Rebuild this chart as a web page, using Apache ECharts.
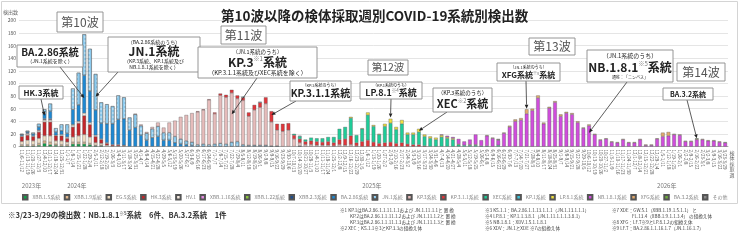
<!DOCTYPE html>
<html>
<head>
<meta charset="utf-8">
<script src="https://cdn.jsdelivr.net/npm/echarts@6/dist/echarts.min.js"></script>
<style>
html, body { margin: 0; padding: 0; background: #fff; }
#chart { width: 740px; height: 240px; }
</style>
</head>
<body>
<div id="chart"></div>
<script>
const N = 125
// first week starts Mon 2023-11-06, last week 2026-03-23 - 03-29
const firstWeek = Date.UTC(2023, 10, 6)
const yearTicks = [0, 8, 60, 112]
const yearNames = ['2023年', '2024年', '2025年', '2026年']

// span(startBar, values): values from bar number startBar (1-based), rest empty
function span(start, vals) {
  const out = new Array(N).fill(null)
  vals.forEach((v, i) => { out[start - 1 + i] = v || null })
  return out
}

const xbb15 = span(1, [1, 1, 1, 2, 5, 3, 2, 1, 1, 4, 4, 4, 3, 1, 1])
const xbb19 = span(1, [2, 2, 2, 3, 4, 4, 2, 2, 2, 3, 3, 3, 2, 1, 1])
const eg5 = span(1, [5, 7, 6, 8, 8, 10, 5, 6, 4, 8, 10, 12, 10, 4, 3, 2, 1, 1, 1])
const hk3 = span(1, [8, 8, 7, 10, 22, 22, 8, 8, 6, 16, 20, 30, 20, 10, 6, 3, 2, 2, 1])
const hv1 = span(1, [1, 2, 1, 2, 3, 3, 1, 2, 2, 3, 3, 4, 3, 2, 1, 1])
const xbb116 = span(1, [0, 1, 0, 1, 1, 1])
const xbb122 = span(10, [1])
const xbb23 = span(5, [1, 1])
const ba286 = span(1, [2, 2, 3, 5, 8, 12, 5, 6, 6, 24, 26, 60, 50, 40, 25, 30, 33, 40, 42, 26,
  30, 18, 10, 14, 16, 10, 10, 6, 4, 3, 2])
const jn1 = span(1, [1, 2, 2, 5, 7, 12, 6, 10, 14, 33, 51, 65, 67, 57, 33, 31, 28, 38, 34, 20,
  21, 15, 11, 14, 16, 12, 12, 10, 8, 6, 5, 3, 4, 3, 4, 5, 4, 7, 8, 3,
  2, 2, 2, 2, 1, 1, 0, 0, 0, 1])
const kp3 = span(21, [1, 2, 2, 3, 6, 8, 16, 25, 35, 41, 46, 52, 54, 71, 48, 76, 74, 78, 68, 70,
  46, 56, 60, 66, 38, 25, 24, 26, 12, 5, 3, 3, 2, 2, 2, 1, 3, 2, 3, 1])
const kp311 = span(32, [1, 1, 1, 2, 3, 4, 5, 5, 5, 6, 8, 8, 10, 17, 10, 12, 11, 6, 6, 5,
  6, 6, 5, 6, 5, 8, 10, 14, 5, 8, 10, 7, 5, 6, 7, 5, 6, 4, 3, 3, 1])
const xec = span(49, [2, 4, 3, 5, 5, 6, 7, 9, 17, 19, 28, 12, 20, 40, 25, 14, 26, 30, 22, 30,
  15, 16, 20, 15, 13, 11, 15, 13, 11, 3, 2, 2, 2, 1, 1, 0, 2])
const kp1 = span(40, [1, 0, 0, 1, 0, 0, 0, 0, 0, 0, 1])
const lp81 = span(59, [2, 0, 1, 4, 2, 1, 4, 7, 4, 6, 3, 3, 5, 3, 3, 3, 3, 2, 2, 1, 0, 1, 1])
const nb181 = span(75, [1, 2, 2, 8, 6, 8, 16, 9, 16, 13, 8, 21, 31, 40, 42, 52, 57, 77, 36, 61,
  70, 48, 53, 51, 38, 29, 33, 19, 10, 12, 7, 6, 11, 6, 6, 11, 2, 2, 12, 16,
  17, 19, 18, 8, 8, 11, 11, 9, 9, 7, 6])
const xfg = span(83, [1, 1, 1, 1, 2, 3, 3, 7, 3, 4, 2, 2, 2, 3, 2, 2, 2, 1, 2, 1,
  1, 1, 1, 1, 1, 1, 1, 1, 1, 1, 1, 6, 6, 1, 1, 1, 1, 1, 1, 1, 1, 1])
const ba32 = span(120, [1, 0, 0, 0, 0, 1])
const other = span(85, [1])

const weeks = []
for (let i = 0; i < N; i++) {
  const a = new Date(firstWeek + i * 7 * 864e5)
  const b = new Date(firstWeek + (i * 7 + 6) * 864e5)
  weeks.push((a.getUTCMonth() + 1) + '/' + a.getUTCDate() + '-' + (b.getUTCMonth() + 1) + '/' + b.getUTCDate())
}

const dots = { symbol: 'circle', symbolSize: 0.7, color: 'rgba(255,255,255,0.85)', dashArrayX: 2, dashArrayY: 2 }
const lineages = [
  { name: 'XBB.1.5系統', color: '#12a04a', data: xbb15 },
  { name: 'XBB.1.9系統', color: '#e2b98e', data: xbb19 },
  { name: 'EG.5系統', color: '#efdcc2', data: eg5 },
  { name: 'HK.3系統', color: '#c3262b', data: hk3 },
  { name: 'HV.1', color: '#f7ece2', data: hv1 },
  { name: 'XBB.1.16系統', color: '#e58be3', data: xbb116 },
  { name: 'XBB.1.22系統', color: '#8cc63f', data: xbb122 },
  { name: 'XBB.2.3系統', color: '#1f4e8c', data: xbb23 },
  { name: 'BA.2.86系統', color: '#1e88d2', data: ba286 },
  { name: 'JN.1系統', color: '#8ccbef', data: jn1, decal: dots },
  { name: 'KP.3系統', color: '#e6bcbb', data: kp3 },
  { name: 'KP.3.1.1系統', color: '#e0353a', data: kp311 },
  { name: 'XEC系統', color: '#1fcc98', data: xec },
  { name: 'KP.1系統', color: '#3cc4dc', data: kp1 },
  { name: 'LP.8.1系統', color: '#f0e040', data: lp81 },
  { name: 'NB.1.8.1系統', color: '#d04ddc', data: nb181 },
  { name: 'XFG系統', color: '#e3aa6e', data: xfg },
  { name: 'BA.3.2系統', color: '#6fae3c', data: ba32 },
  { name: 'その他', color: '#8a8a8a', data: other }
]

const FONT = '"Noto Sans CJK JP", "Noto Sans", sans-serif'
const chart = echarts.init(document.getElementById('chart'), null, { renderer: 'canvas' })

const option = {
  animation: false,
  textStyle: { fontFamily: FONT },
  title: {
    text: '第10波以降の検体採取週別COVID-19系統別検出数',
    left: 216, top: 4,
    textStyle: { fontSize: 13.5, fontWeight: 'bold', color: '#222', fontFamily: FONT }
  },
  grid: { left: 19, right: 12, top: 20.5, bottom: 93.5 },
  legend: {
    left: 22, top: 194, width: 716, padding: 0,
    itemWidth: 4.5, itemHeight: 4.5, itemGap: 3.5,
    textStyle: { fontSize: 5, color: '#888' },
    data: lineages.map(l => ({ name: l.name, icon: 'rect' }))
  },
  xAxis: [
    {
      type: 'category', data: weeks,
      axisLine: { lineStyle: { color: '#999', width: 0.8 } },
      axisTick: { show: false },
      axisLabel: { interval: 0, rotate: -90, fontSize: 4.5, color: '#555', margin: 3 }
    },
    {
      type: 'category', data: weeks, position: 'bottom', offset: 28,
      axisLine: { show: false }, axisTick: { show: false },
      axisLabel: {
        interval: 0, fontSize: 6, color: '#777', align: 'left',
        formatter: (v, i) => { const k = yearTicks.indexOf(i); return k >= 0 ? yearNames[k] : '' }
      }
    }
  ],
  yAxis: {
    type: 'value', min: 0, max: 200, interval: 20,
    name: '検出数', nameLocation: 'end', nameGap: 6,
    nameTextStyle: { fontSize: 5, color: '#666', align: 'left', padding: [0, 0, 0, -16] },
    axisLine: { show: false }, axisTick: { show: false },
    axisLabel: { fontSize: 5, color: '#555', margin: 3 },
    splitLine: { lineStyle: { color: '#dedede', width: 0.8 } }
  },
  series: lineages.map(l => ({
    name: l.name, type: 'bar', stack: 'all', barCategoryGap: '36%',
    data: l.data,
    itemStyle: { color: l.color, borderColor: '#555', borderWidth: 0.35, decal: l.decal }
  }))
}
chart.setOption(option)

// callouts: box [x, y, w, h], lines of text, arrow start and the bar it points to
const callouts = [
  { box: [57, 12, 46, 20], lines: [{ t: '第10波', s: 12, w: 'normal', c: '#555' }] },
  { box: [221, 26, 45, 18], lines: [{ t: '第11波', s: 12, w: 'normal', c: '#555' }] },
  { box: [368, 60, 40, 15], lines: [{ t: '第12波', s: 10.5, w: 'normal', c: '#555' }] },
  { box: [529, 38, 46, 17], lines: [{ t: '第13波', s: 12, w: 'normal', c: '#555' }] },
  { box: [677, 63, 48, 18], lines: [{ t: '第14波', s: 12, w: 'normal', c: '#555' }] },
  { box: [17, 45, 66, 22], lines: [{ t: 'BA.2.86系統', s: 10, dy: 7 }, { t: '（JN.1系統を除く）', s: 5, dy: 16, w: 'normal' }],
    from: [60, 67], bar: 11, val: 77 },
  { box: [19, 86, 44, 13], lines: [{ t: 'HK.3系統', s: 8, dy: 6.5 }], from: [41, 99], bar: 4, val: 49 },
  { box: [108, 37, 92, 35], lines: [
      { t: '（BA.2.86系統のうち）', s: 5, dy: 5, w: 'normal' },
      { t: 'JN.1系統', s: 12, dy: 14 },
      { t: '（KP.3系統、KP.1系統及び', s: 5, dy: 24, w: 'normal' },
      { t: 'NB.1.8.1系統を除く）', s: 5, dy: 30, w: 'normal' }],
    from: [118, 72], bar: 13, val: 79 },
  { box: [198, 47, 119, 31], lines: [
      { t: '（JN.1系統のうち）', s: 5.5, dy: 5, w: 'normal' },
      { rich: '{a|KP.3}{s|※1}{a|系統}', s: 12, dy: 15 },
      { t: '（KP.3.1.1系統及びXEC系統を除く）', s: 6, dy: 25.5, w: 'normal' }],
    from: [257, 78], bar: 37, val: 51 },
  { box: [290, 81, 61, 20], lines: [
      { t: '（KP.3系統のうち）', s: 4, dy: 4, w: 'normal' },
      { t: 'KP.3.1.1系統', s: 10, dy: 12.5 }],
    from: [296, 101], bar: 44, val: 50 },
  { box: [360, 82, 62, 17], lines: [
      { t: '（KP.1系統のうち）', s: 4, dy: 3.5, w: 'normal' },
      { rich: '{a|LP.8.1}{s|※4}{a|系統}', s: 9, dy: 11 }],
    from: [391, 99], bar: 65, val: 46 },
  { box: [433, 88, 59, 24], lines: [
      { t: '（KP.3系統のうち）', s: 5.5, dy: 5, w: 'normal' },
      { rich: '{a|XEC}{s|※2}{a|系統}', s: 11, dy: 15.5 }],
    from: [447, 112], bar: 70, val: 25 },
  { box: [497, 63, 63, 18], lines: [
      { t: '（JN.1系統のうち）', s: 4, dy: 4, w: 'normal' },
      { rich: '{a|XFG系統}{s|※8}{a|系統}', s: 8, dy: 12 }],
    from: [526, 81], bar: 89, val: 60 },
  { box: [587, 50, 86, 32], lines: [
      { t: '（JN.1系統のうち）', s: 6, dy: 6, w: 'normal' },
      { rich: '{a|NB.1.8.1}{s|※5}{a|系統}', s: 12, dy: 17, u: true },
      { t: '通称：「ニンバス」', s: 4, dy: 27, w: 'normal' }],
    from: [627, 82], bar: 100, val: 22 },
  { box: [663, 88, 50, 12], lines: [{ t: 'BA.3.2系統', s: 7, dy: 6 }], from: [687, 100], bar: 119, val: 13 }
]

const graphics = []
graphics.push({ type: 'rect', shape: { x: 1.5, y: 1.5, width: 736, height: 202 }, style: { fill: null, stroke: '#d4d4d4', lineWidth: 1 }, silent: true })

callouts.forEach(c => {
  const [x, y, w, h] = c.box
  graphics.push({ type: 'rect', shape: { x, y, width: w, height: h }, style: { fill: '#fff', stroke: '#8a8a8a', lineWidth: 0.9 }, z: 100 })
  c.lines.forEach(l => {
    const dy = l.dy != null ? l.dy : h / 2
    const style = {
      x: x + w / 2, y: y + dy, align: 'center', verticalAlign: 'middle',
      fontSize: l.s, fontWeight: l.w || 'bold', fill: l.c || '#222', fontFamily: FONT
    }
    if (l.rich) {
      style.text = l.rich
      style.rich = {
        a: { fontSize: l.s, fontWeight: 'bold', fill: '#222', fontFamily: FONT, textDecoration: l.u ? 'underline' : 'none' },
        s: { fontSize: l.s * 0.5, fill: '#777', fontFamily: FONT, verticalAlign: 'top', padding: [0, 0, l.s * 0.5, 0] }
      }
    } else {
      style.text = l.t
    }
    graphics.push({ type: 'text', style, z: 101 })
  })
  if (c.from) {
    const p = chart.convertToPixel({ xAxisIndex: 0, yAxisIndex: 0 }, [c.bar, c.val])
    const [x0, y0] = c.from
    const ang = Math.atan2(p[1] - y0, p[0] - x0)
    const hl = 4, hw = 1.8
    const bx = p[0] - hl * Math.cos(ang), by = p[1] - hl * Math.sin(ang)
    graphics.push({ type: 'line', shape: { x1: x0, y1: y0, x2: bx, y2: by }, style: { stroke: '#333', lineWidth: 0.8 }, z: 99 })
    graphics.push({ type: 'polygon', shape: { points: [
      [p[0], p[1]],
      [bx + hw * Math.sin(ang), by - hw * Math.cos(ang)],
      [bx - hw * Math.sin(ang), by + hw * Math.cos(ang)]] }, style: { fill: '#222' }, z: 99 })
  }
})

// x-axis name, vertical
graphics.push({ type: 'text', style: { text: '検\n体\n採\n取\n週', x: 732, y: 150, fontSize: 5, lineHeight: 5.5, fill: '#666', fontFamily: FONT, align: 'center' } })

// footnotes
graphics.push({ type: 'text', style: {
  x: 8, y: 215, verticalAlign: 'middle',
  text: '{a|※3/23-3/29の検出数：NB.1.8.1}{s|※5}{a|系統　6件、BA.3.2系統　1件}',
  rich: {
    a: { fontSize: 7.5, fontWeight: 'bold', fill: '#333', fontFamily: FONT },
    s: { fontSize: 4.5, fontWeight: 'bold', fill: '#555', fontFamily: FONT, verticalAlign: 'top', padding: [0, 0, 4, 0] }
  }
} })

const notes = [
  [340, 210, '※1 KP.1はBA.2.86.1.1.11.1.1および JN.1.11.1.1と 置 換'],
  [350, 216, 'KP.2はBA.2.86.1.1.11.1.2および JN.1.11.1.2と 置 換'],
  [350, 222, 'KP.3はBA.2.86.1.1.11.1.3および JN.1.11.1.3と 置 換'],
  [340, 228, '※2 XEC：KS.1.1※3とKP.3.3の組換え体'],
  [485, 210, '※3 KS.1.1：BA.2.86.1.1.13.1.1.1（JN.1.13.1.1.1）'],
  [485, 216, '※4 LP.8.1：KP.1.1.3.8.1（JN.1.11.1.1.1.3.8.1）'],
  [485, 222, '※5 NB.1.8.1：XDV.1.5.1.1.8.1'],
  [485, 228, '※6 XDV：JN.1とXDE ※7の組換え体'],
  [612, 210, '※7 XDE：GW.5.1（XBB.1.19.1.5.1.1） と'],
  [632, 216, 'FL.13.4（XBB.1.9.1.1.3.4） の組換え体'],
  [612, 222, '※8 XFG：LF.7※9とLP.8.1.2の組換え体'],
  [612, 228, '※9 LF.7：BA.2.86.1.1.16.1.7（JN.1.16.1.7）']
]
notes.forEach(n => {
  graphics.push({ type: 'text', style: { x: n[0], y: n[1], text: n[2], fontSize: 4.6, fill: '#444', fontFamily: FONT, verticalAlign: 'middle' } })
})

chart.setOption({ graphic: graphics })
</script>
</body>
</html>
